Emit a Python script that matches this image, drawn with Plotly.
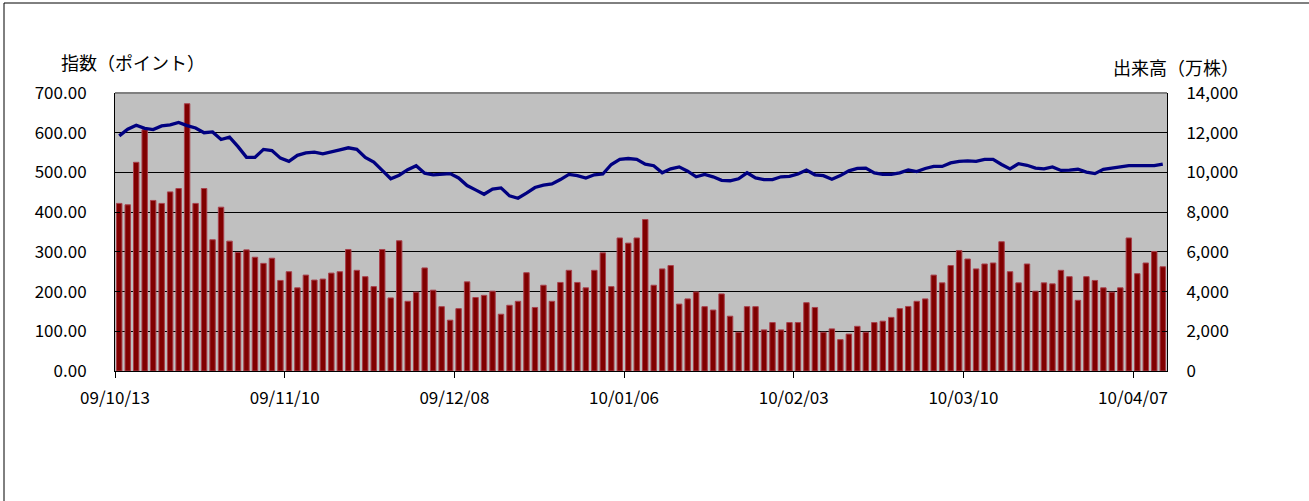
import plotly.graph_objects as go

# Volume (万株), one per trading day
volume = [
    8440, 8370, 10510, 12150, 8590, 8440, 9020, 9190, 13460, 8440,
    9190, 6610, 8250, 6540, 5970, 6100, 5730, 5420, 5680, 4560,
    5000, 4190, 4830, 4580, 4630, 4930, 5000, 6120, 5070, 4750,
    4250, 6120, 3680, 6560, 3510, 3970, 5190, 4070, 3240, 2560,
    3140, 4490, 3700, 3810, 4020, 2860, 3310, 3510, 4950, 3200,
    4320, 3510, 4460, 5070, 4460, 4190, 5070, 5950, 4250, 6700,
    6440, 6700, 7630, 4320, 5140, 5310, 3370, 3630, 3980, 3240,
    3070, 3880, 2760, 1950, 3240, 3240, 2070, 2440, 2070, 2440,
    2440, 3440, 3200, 1950, 2120, 1580, 1860, 2250, 1950, 2440,
    2510, 2700, 3140, 3250, 3510, 3630, 4830, 4440, 5310, 6070,
    5640, 5140, 5390, 5440, 6510, 5000, 4440, 5390, 4020, 4440,
    4390, 5070, 4750, 3560, 4750, 4560, 4190, 3970, 4190, 6700,
    4900, 5440, 6020, 5250,
]

# Index (ポイント), one per trading day
index_pts = [
    592, 609, 619, 611, 608, 617, 620, 626, 618, 612,
    600, 602, 583, 589, 565, 538, 538, 558, 555, 536,
    528, 543, 549, 551, 547, 551, 557, 562, 558, 538,
    526, 505, 484, 493, 507, 517, 498, 494, 495, 497,
    486, 467, 456, 445, 458, 461, 441, 435, 448, 462,
    468, 471, 482, 495, 492, 486, 494, 496, 520, 533,
    535, 533, 521, 517, 499, 509, 514, 503, 489, 495,
    489, 480, 479, 484, 499, 486, 482, 482, 489, 490,
    496, 506, 494, 492, 483, 492, 504, 510, 511, 499,
    495, 495, 499, 506, 502, 510, 515, 515, 524, 528,
    529, 528, 533, 533, 520, 509, 522, 518, 511, 509,
    514, 505, 506, 508, 501, 497, 508, 511, 514, 517,
    517, 517, 517, 521,
]

tick_labels = ["09/10/13", "09/11/10", "09/12/08", "10/01/06",
               "10/02/03", "10/03/10", "10/04/07"]
tick_every = 20

left_ticks = [0, 100, 200, 300, 400, 500, 600, 700]
right_ticks = [0, 2000, 4000, 6000, 8000, 10000, 12000, 14000]

n = len(volume)
xs = list(range(n))
tickvals = [i * tick_every - 0.5 for i in range(len(tick_labels))]

FONT = "Noto Sans CJK JP"
TICK_SIZE = 17

fig = go.Figure()
fig.add_trace(go.Bar(
    x=xs, y=volume, yaxis="y",
    marker=dict(color="#800000", line=dict(color="#A8404C", width=1)),
    name="出来高",
))
fig.add_trace(go.Scatter(
    x=xs, y=index_pts, yaxis="y2", mode="lines",
    line=dict(color="#000080", width=3.3),
    name="指数",
))

W, H = 1309, 501
ml, mr, mt, mb = 115, 142, 93, 130
pw = W - ml - mr
ph = H - mt - mb

fig.update_layout(
    width=W, height=H,
    margin=dict(l=ml, r=mr, t=mt, b=mb, pad=0),
    paper_bgcolor="white",
    plot_bgcolor="#C0C0C0",
    showlegend=False,
    bargap=0.36,
    font=dict(family=FONT, size=16, color="black"),
    xaxis=dict(
        range=[-0.5, n - 0.5],
        tickmode="array", tickvals=tickvals, ticktext=tick_labels,
        ticks="outside", ticklen=6, tickcolor="black",
        showline=True, linecolor="black", linewidth=1,
        showgrid=False, zeroline=False, ticklabelstandoff=6,
        tickfont=dict(family=FONT, size=TICK_SIZE),
    ),
    yaxis=dict(
        side="right", range=[0, 14000],
        tickmode="array", tickvals=right_ticks,
        ticktext=[f"{v:,}" for v in right_ticks],
        ticks="inside", ticklen=5, tickcolor="black",
        showline=True, linecolor="black", linewidth=1,
        showgrid=True, gridcolor="black", gridwidth=1,
        zeroline=False, ticklabelstandoff=15,
        tickfont=dict(family=FONT, size=TICK_SIZE),
    ),
    yaxis2=dict(
        side="left", overlaying="y", range=[0, 700],
        tickmode="array", tickvals=left_ticks,
        ticktext=[f"{v:.2f}" for v in left_ticks],
        ticks="inside", ticklen=5, tickcolor="black",
        showline=True, linecolor="black", linewidth=1,
        showgrid=False, zeroline=False, ticklabelstandoff=24,
        tickfont=dict(family=FONT, size=TICK_SIZE),
    ),
)

def px_x(p):
    return (p - ml) / pw

def px_y(p):
    return (H - mb - p) / ph

shapes = [
    dict(type="line", xref="paper", yref="paper", x0=0, x1=1, y0=1, y1=1,
         line=dict(color="#808080", width=2)),
    dict(type="rect", xref="paper", yref="paper",
         x0=px_x(4), x1=px_x(W + 20), y0=px_y(H + 20), y1=px_y(3),
         line=dict(color="black", width=1), fillcolor="rgba(0,0,0,0)",
         layer="below"),
]
fig.update_layout(shapes=shapes)

fig.add_annotation(text="指数（ポイント）", xref="paper", yref="paper",
                   x=px_x(60), y=px_y(62), xanchor="left", yanchor="middle",
                   showarrow=False, borderpad=0, font=dict(family=FONT, size=18))
fig.add_annotation(text="出来高（万株）", xref="paper", yref="paper",
                   x=px_x(1240), y=px_y(67), xanchor="right", yanchor="middle",
                   showarrow=False, borderpad=0, font=dict(family=FONT, size=18))

fig.write_html("out.html",
               config={"displayModeBar": False},
               post_script="document.body.style.margin='0';document.body.style.overflow='hidden';")
